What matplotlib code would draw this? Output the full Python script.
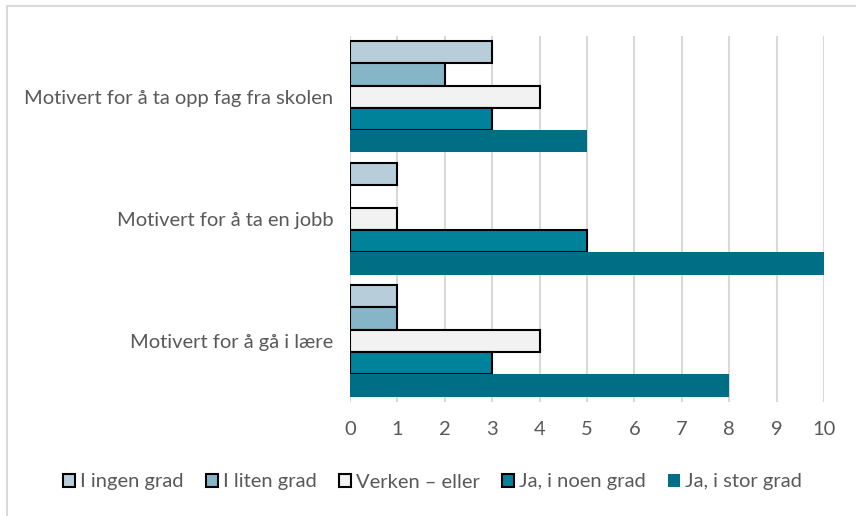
import numpy as np
import matplotlib
matplotlib.use("Agg")
import matplotlib.pyplot as plt
from matplotlib.patches import Rectangle, Patch

# categories listed bottom-up (matplotlib y order)
categories = ["Motivert for å gå i lære", "Motivert for å ta en jobb", "Motivert for å ta opp fag fra skolen"]
series_names = ["I ingen grad", "I liten grad", "Verken – eller", "Ja, i noen grad", "Ja, i stor grad"]
ingen_grad = [1, 1, 3]
liten_grad = [1, 0, 2]
verken = [4, 1, 4]
noen_grad = [3, 5, 3]
stor_grad = [8, 10, 5]
x_ticks = list(range(0, 11))

values = [ingen_grad, liten_grad, verken, noen_grad, stor_grad]
colors = ["#B7CEDA", "#86B5C8", "#F2F2F2", "#00829B", "#006E85"]
edges = ["black", "black", "black", "black", "none"]

plt.rcParams['font.family'] = ['Lato', 'DejaVu Sans']
text_col = "#595959"
fs = 14.5

fig = plt.figure(figsize=(8.56, 5.16), dpi=100)
ax = fig.add_axes([0.409, 0.221, 0.9626 - 0.409, 0.931 - 0.221])

# outer chart border (only left/top visible in the crop)
fig.patches.append(Rectangle((6.5 / 856, -0.1), 1.2, 1.1 - 5.5 / 516, transform=fig.transFigure,
                             fill=False, edgecolor="#D9D9D9", linewidth=1.5))

y = np.arange(len(categories))
group_w = 0.914
bar_h = group_w / 5
for i, (name, vals) in enumerate(zip(series_names, values)):
    offs = group_w / 2 - bar_h / 2 - i * bar_h
    ax.barh(y + offs, vals, height=bar_h, color=colors[i], edgecolor=edges[i],
            linewidth=1.5, label=name, zorder=3)

ax.set_xlim(0, 10)
ax.set_ylim(-0.5, 2.5)
ax.set_xticks(x_ticks)
ax.set_yticks(y)
ax.set_yticklabels(categories)
ax.grid(axis="x", color="#D9D9D9", linewidth=1.5, zorder=0)
for s in ax.spines.values():
    s.set_visible(False)
ax.tick_params(axis="y", length=0, pad=12, labelsize=fs, labelcolor=text_col)
ax.tick_params(axis="x", length=0, pad=14, labelsize=fs, labelcolor=text_col)

handles = [Patch(facecolor=colors[i], edgecolor=edges[i], linewidth=1.5) for i in range(5)]
fig.legend(handles, series_names, loc="center", bbox_to_anchor=(0.505, 1 - 482 / 516), ncol=5,
           frameon=False, handlelength=0.6, handleheight=0.6, handletextpad=0.25,
           columnspacing=1.1, fontsize=fs, labelcolor=text_col)

fig.savefig("out.png", dpi=100, facecolor="white")
